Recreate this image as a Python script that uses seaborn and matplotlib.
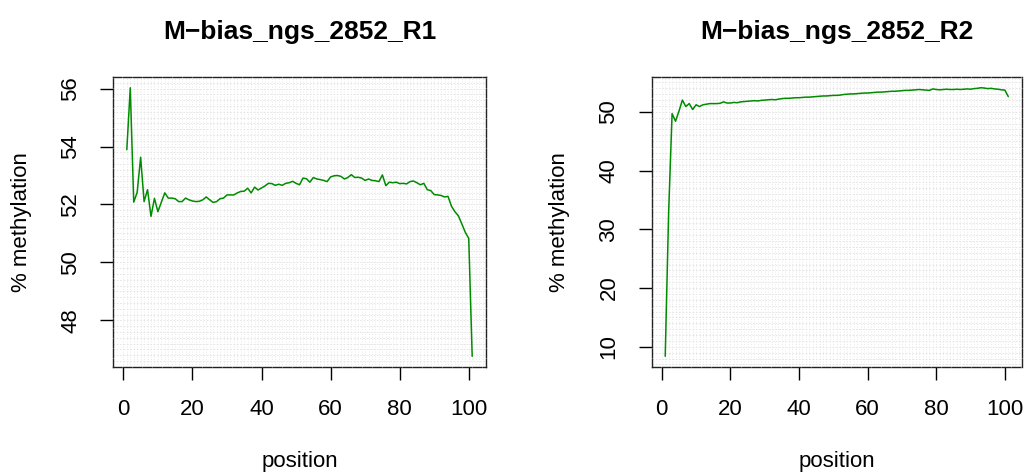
import numpy as np
import pandas as pd
import matplotlib
matplotlib.use("Agg")
import matplotlib.pyplot as plt
import seaborn as sns

titles = ["M\u2212bias_ngs_2852_R1", "M\u2212bias_ngs_2852_R2"]
positions = list(range(1, 102))

r1_meth = [53.89, 56.03, 52.08, 52.42, 53.63, 52.10, 52.51, 51.59, 52.21, 51.75,
           52.08, 52.40, 52.22, 52.22, 52.20, 52.10, 52.10, 52.22, 52.16, 52.12,
           52.10, 52.11, 52.16, 52.26, 52.16, 52.07, 52.10, 52.20, 52.22, 52.33,
           52.33, 52.33, 52.40, 52.45, 52.46, 52.56, 52.40, 52.60, 52.50, 52.57,
           52.64, 52.73, 52.72, 52.66, 52.70, 52.66, 52.73, 52.75, 52.80, 52.73,
           52.68, 52.91, 52.89, 52.77, 52.93, 52.88, 52.86, 52.83, 52.79, 52.95,
           52.99, 53.00, 52.97, 52.88, 52.93, 53.03, 52.93, 52.94, 52.91, 52.83,
           52.88, 52.83, 52.82, 52.79, 53.02, 52.65, 52.77, 52.75, 52.77, 52.72,
           52.73, 52.71, 52.79, 52.81, 52.75, 52.68, 52.73, 52.51, 52.48, 52.34,
           52.33, 52.31, 52.26, 52.28, 51.94, 51.75, 51.61, 51.33, 51.04, 50.83,
           46.76]

r2_meth = [8.4, 33.0, 49.7, 48.4, 50.1, 52.0, 50.9, 51.4, 50.4, 51.2,
           50.9, 51.2, 51.3, 51.4, 51.4, 51.4, 51.45, 51.7, 51.5, 51.5,
           51.6, 51.55, 51.7, 51.75, 51.8, 51.85, 51.9, 51.85, 51.95, 52.0,
           52.05, 52.1, 52.05, 52.15, 52.25, 52.3, 52.3, 52.35, 52.4, 52.4,
           52.45, 52.5, 52.5, 52.55, 52.6, 52.65, 52.7, 52.7, 52.75, 52.8,
           52.8, 52.85, 52.95, 53.0, 53.05, 53.05, 53.1, 53.15, 53.2, 53.2,
           53.25, 53.3, 53.35, 53.35, 53.4, 53.45, 53.5, 53.5, 53.55, 53.6,
           53.65, 53.65, 53.7, 53.75, 53.8, 53.75, 53.7, 53.65, 53.9, 53.8,
           53.75, 53.8, 53.85, 53.8, 53.8, 53.85, 53.8, 53.85, 53.9, 53.85,
           53.95, 54.0, 54.1, 54.05, 53.95, 54.0, 53.9, 53.85, 53.75, 53.7,
           52.6]

x_ticks = [0, 20, 40, 60, 80, 100]
r1_yticks = [48, 50, 52, 54, 56]
r2_yticks = [10, 20, 30, 40, 50]

sns.set_theme(style="white")
plt.rcParams['font.family'] = ['Liberation Sans', 'DejaVu Sans']
plt.rcParams['text.color'] = 'black'
plt.rcParams['axes.labelcolor'] = 'black'
plt.rcParams['xtick.color'] = 'black'
plt.rcParams['ytick.color'] = 'black'

fig = plt.figure(figsize=(10.27, 4.74), dpi=100)
W, H = 1027, 474
boxes = [(113, 486), (651.5, 1022)]
top, bottom = 77, 367

datasets = [
    (r1_meth, r1_yticks, 0.2),
    (r2_meth, r2_yticks, 1.0),
]

for i, ((l, r), (vals, yt, hstep)) in enumerate(zip(boxes, datasets)):
    ax = fig.add_axes([l / W, 1 - bottom / H, (r - l) / W, (bottom - top) / H])
    df = pd.DataFrame({"position": positions, "meth": vals})
    x0, x1 = min(positions), max(positions)
    xr = x1 - x0
    y0, y1 = min(vals), max(vals)
    yr = y1 - y0
    xlim = (x0 - 0.04 * xr, x1 + 0.04 * xr)
    ylim = (y0 - 0.04 * yr, y1 + 0.04 * yr)
    # dense dotted grid
    for xv in np.arange(0, 106, 1):
        ax.axvline(xv, color="#e2e2e2", lw=0.6, ls=(0, (1, 2)), zorder=0)
    for yv in np.arange(np.floor(ylim[0]), ylim[1], hstep):
        ax.axhline(yv, color="#e2e2e2", lw=0.6, ls=(0, (2, 2)), zorder=0)
    sns.lineplot(data=df, x="position", y="meth", color="#008B00", lw=1.1, ax=ax, zorder=3)
    ax.set_xlim(*xlim)
    ax.set_ylim(*ylim)
    ax.set_xticks(x_ticks)
    ax.set_yticks(yt)
    ax.tick_params(axis="both", which="both", direction="out", length=9.5, width=1.0,
                   color="black", labelcolor="black", labelsize=16, pad=13.5,
                   left=True, bottom=True)
    ax.tick_params(axis="y", labelrotation=90)
    for lab in ax.get_yticklabels():
        lab.set_va("center")
    for sp in ax.spines.values():
        sp.set_visible(True)
        sp.set_color("#222222")
        sp.set_linewidth(1.0)
        sp.set_linestyle((0, (6, 1.2)))
    ax.set_xlabel("position", fontsize=16, labelpad=22.5, color="black")
    ax.set_ylabel("% methylation", fontsize=16, labelpad=20.5, color="black")
    ax.set_title(titles[i], fontsize=19, fontweight="bold", pad=27.5, color="black")

fig.savefig("out.png", dpi=100)
